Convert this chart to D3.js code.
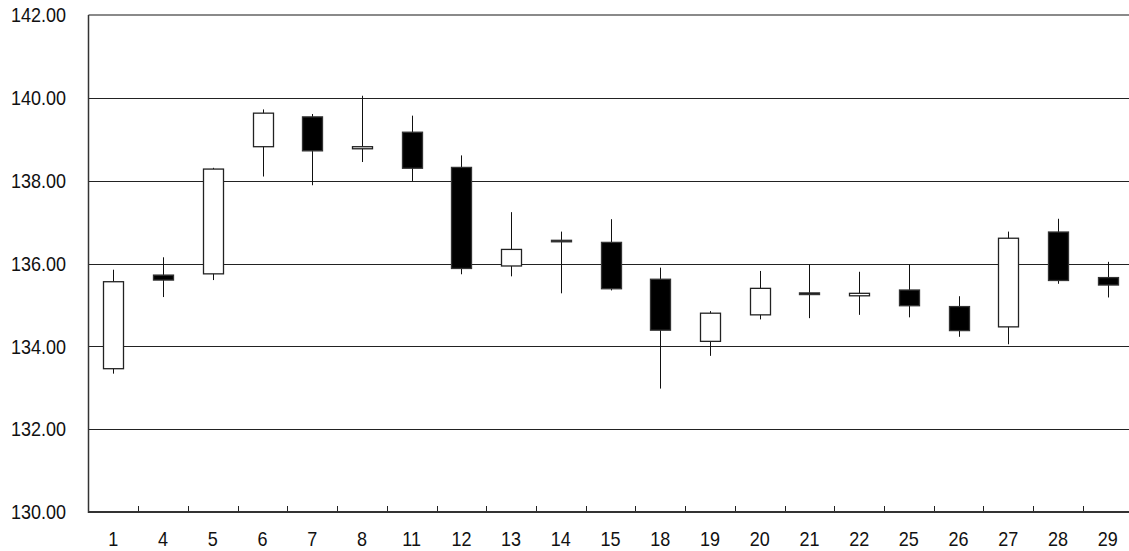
<!DOCTYPE html>
<html>
<head>
<meta charset="utf-8">
<script src="https://cdn.jsdelivr.net/npm/d3@7"></script>
<style>
  html, body { margin: 0; padding: 0; background: #fff; }
  svg { display: block; }
</style>
</head>
<body>
<svg id="chart" width="1129" height="551"></svg>
<script>
// ---- data ----
const dates  = ["1","4","5","6","7","8","11","12","13","14","15","18","19","20","21","22","25","26","27","28","29"];
const opens  = [133.46,135.72,135.75,138.82,139.54,138.77,139.17,138.32,135.94,136.56,136.51,135.62,134.12,134.76,135.29,135.22,135.36,134.96,134.47,136.76,135.66];
const highs  = [135.85,136.15,138.31,139.72,139.61,140.05,139.57,138.61,137.24,136.77,137.07,135.90,134.85,135.82,135.98,135.80,135.98,135.21,136.77,137.08,136.04];
const lows   = [133.34,135.19,135.60,138.10,137.89,138.45,137.99,135.74,135.69,135.28,135.35,132.98,133.77,134.65,134.68,134.76,134.70,134.23,134.05,135.51,135.18];
const closes = [135.56,135.60,138.28,139.63,138.72,138.82,138.30,135.88,136.34,136.53,135.39,134.39,134.80,135.40,135.25,135.28,134.98,134.38,136.61,135.59,135.48];
const yTicks = [130,132,134,136,138,140,142];

// ---- layout ----
const svg = d3.select("#chart");
const pLeft = 88.5, pRight = 1132.6, pTop = 15, pBottom = 512;

const x = d3.scaleBand().domain(dates).range([pLeft, pRight]).paddingInner(0).paddingOuter(0);
const y = d3.scaleLinear().domain([130, 142]).range([pBottom, pTop]);
const bw = x.bandwidth();

const candles = dates.map((d, i) => ({d, o: opens[i], h: highs[i], l: lows[i], c: closes[i]}));

// gridlines
svg.append("g").selectAll("line").data(yTicks.filter(t => t > 130 && t < 142)).join("line")
  .attr("x1", pLeft).attr("x2", pRight)
  .attr("y1", d => Math.round(y(d)) + 0.5).attr("y2", d => Math.round(y(d)) + 0.5)
  .attr("stroke", "#222").attr("stroke-width", 1);

// top border
svg.append("line").attr("x1", pLeft).attr("x2", pRight)
  .attr("y1", y(142)).attr("y2", y(142))
  .attr("stroke", "#8a8a8a").attr("stroke-width", 2);

// y labels
svg.append("g").selectAll("text").data(yTicks).join("text")
  .attr("transform", d => `translate(66,${y(d) + 7.3}) scale(0.9,1)`)
  .attr("text-anchor", "end")
  .attr("font-family", "Liberation Sans, Arial, sans-serif")
  .attr("font-size", 20)
  .attr("fill", "#111")
  .text(d => d.toFixed(2));

// x tick marks between bands (pointing up)
const boundaries = dates.slice(1).map(d => x(d));
svg.append("g").selectAll("line").data(boundaries).join("line")
  .attr("x1", d => Math.round(d) + 0.5).attr("x2", d => Math.round(d) + 0.5)
  .attr("y1", pBottom - 6).attr("y2", pBottom)
  .attr("stroke", "#222").attr("stroke-width", 1);

// x labels
svg.append("g").selectAll("text").data(dates).join("text")
  .attr("transform", d => `translate(${x(d) + bw/2},546) scale(0.9,1)`)
  .attr("text-anchor", "middle")
  .attr("font-family", "Liberation Sans, Arial, sans-serif")
  .attr("font-size", 20)
  .attr("fill", "#111")
  .text(d => d);

// candles
const g = svg.append("g");
const bodyW = 20;
g.selectAll("line.wick").data(candles).join("line")
  .attr("class", "wick")
  .attr("x1", d => Math.round(x(d.d) + bw/2) + 0.5)
  .attr("x2", d => Math.round(x(d.d) + bw/2) + 0.5)
  .attr("y1", d => y(d.h)).attr("y2", d => y(d.l))
  .attr("stroke", "#111").attr("stroke-width", 1);

g.selectAll("rect.body").data(candles).join("rect")
  .attr("class", "body")
  .attr("x", d => Math.round(x(d.d) + bw/2) + 0.5 - bodyW/2)
  .attr("width", bodyW)
  .attr("y", d => y(Math.max(d.o, d.c)))
  .attr("height", d => Math.max(1.5, Math.abs(y(d.o) - y(d.c))))
  .attr("fill", d => d.c < d.o ? "#000" : "#fff")
  .attr("stroke", d => d.c < d.o ? "#333" : "#222")
  .attr("stroke-width", 1.3);

// axis lines
svg.append("line").attr("x1", pLeft).attr("x2", pLeft).attr("y1", pTop).attr("y2", pBottom + 1)
  .attr("stroke", "#333").attr("stroke-width", 1.5);
svg.append("line").attr("x1", pLeft).attr("x2", pRight).attr("y1", pBottom).attr("y2", pBottom)
  .attr("stroke", "#333").attr("stroke-width", 2);
</script>
</body>
</html>
